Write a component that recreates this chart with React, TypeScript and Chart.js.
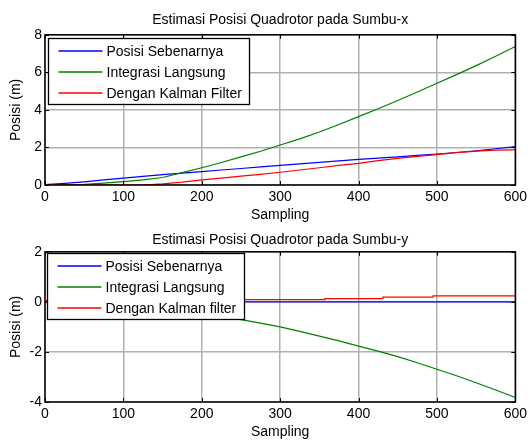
import React, { useEffect, useRef } from 'react';
import { Chart, registerables } from 'chart.js';
Chart.register(...registerables);

// ---- data ----
const samples = [0, 25, 50, 75, 100, 125, 150, 175, 200, 225, 250, 275, 300, 325, 350, 375, 400, 425, 450, 475, 500, 525, 550, 575, 600];

const xPosisiSebenarnya = [0.02, 0.09, 0.17, 0.27, 0.37, 0.46, 0.55, 0.63, 0.71, 0.8, 0.88, 0.97, 1.05, 1.12, 1.2, 1.28, 1.36, 1.43, 1.5, 1.58, 1.65, 1.73, 1.82, 1.93, 2.04];
const xIntegrasiLangsung = [0, 0.01, 0.03, 0.1, 0.18, 0.27, 0.4, 0.66, 0.92, 1.2, 1.5, 1.8, 2.13, 2.46, 2.82, 3.22, 3.64, 4.06, 4.5, 4.95, 5.42, 5.88, 6.36, 6.86, 7.38];
const xKalman = [0, 0, 0, 0, 0, 0, 0.06, 0.15, 0.27, 0.37, 0.47, 0.57, 0.68, 0.8, 0.92, 1.05, 1.15, 1.3, 1.42, 1.52, 1.62, 1.72, 1.8, 1.86, 1.87];

const yPosisiSebenarnya = [0, 0, 0, 0, 0, 0, 0, 0, 0, 0, 0, 0, 0, 0, 0, 0, 0, 0, 0, 0, 0, 0, 0, 0, 0];
const yIntegrasiLangsung = [0, -0.01, -0.03, -0.06, -0.12, -0.2, -0.29, -0.39, -0.48, -0.59, -0.71, -0.85, -1.0, -1.18, -1.37, -1.56, -1.77, -1.97, -2.19, -2.43, -2.69, -2.95, -3.23, -3.52, -3.82];
const yKalmanSamples = [0, 247, 357, 431, 495, 543, 600];
const yKalman = [0.03, 0.05, 0.09, 0.13, 0.19, 0.24, 0.24];

const xTicks = [0, 100, 200, 300, 400, 500, 600];
const yTicksTop = [0, 2, 4, 6, 8];
const yTicksBottom = [-4, -2, 0, 2];

const titleTop = 'Estimasi Posisi Quadrotor pada Sumbu-x';
const titleBottom = 'Estimasi Posisi Quadrotor pada Sumbu-y';
const labelsTop = ['Posisi Sebenarnya', 'Integrasi Langsung', 'Dengan Kalman Filter'];
const labelsBottom = ['Posisi Sebenarnya', 'Integrasi Langsung', 'Dengan Kalman filter'];

const FAMILY = '"Liberation Sans", Arial, Helvetica, sans-serif';
const BLUE = '#0000ff';
const GREEN = '#008000';
const RED = '#ff0000';
const GRID = '#b0b0b0';

const pts = (xs: number[], ys: number[]) => xs.map((x, i) => ({ x, y: ys[i] }));

const matlabFrame = {
  id: 'matlabFrame',
  afterDatasetsDraw(chart: any, _args: any, opts: any) {
    const { ctx, chartArea: a, scales } = chart;
    ctx.save();
    ctx.strokeStyle = '#000';
    ctx.lineWidth = 1;
    ctx.beginPath();
    for (const t of scales.x.ticks) {
      const px = Math.round(scales.x.getPixelForValue(t.value)) + 0.5;
      ctx.moveTo(px, a.bottom);
      ctx.lineTo(px, a.bottom - 4);
      ctx.moveTo(px, a.top);
      ctx.lineTo(px, a.top + 4);
    }
    for (const t of scales.y.ticks) {
      const py = Math.round(scales.y.getPixelForValue(t.value)) + 0.5;
      ctx.moveTo(a.left, py);
      ctx.lineTo(a.left + 4, py);
      ctx.moveTo(a.right, py);
      ctx.lineTo(a.right - 4, py);
    }
    ctx.stroke();
    ctx.lineWidth = 1.5;
    ctx.strokeRect(a.left, a.top, a.right - a.left, a.bottom - a.top);

    // legend
    const ds = chart.data.datasets;
    ctx.font = '14px ' + FAMILY;
    const boxL = Math.round(a.left + opts.dx) + 0.5;
    const boxT = Math.round(a.top + opts.dy) + 0.5;
    const maxW = Math.max(...ds.map((d: any) => ctx.measureText(d.label).width));
    const boxW = Math.round(58 + maxW + 8);
    const boxH = 66;
    ctx.fillStyle = '#fff';
    ctx.fillRect(boxL, boxT, boxW, boxH);
    ctx.lineWidth = 1.3;
    ctx.strokeStyle = '#000';
    ctx.strokeRect(boxL, boxT, boxW, boxH);
    ds.forEach((d: any, i: number) => {
      const y = Math.round(boxT + 12 + 21 * i);
      ctx.strokeStyle = d.borderColor;
      ctx.lineWidth = 1.6;
      ctx.beginPath();
      ctx.moveTo(boxL + 10, y);
      ctx.lineTo(boxL + 54, y);
      ctx.stroke();
      ctx.fillStyle = '#000';
      ctx.textBaseline = 'middle';
      ctx.textAlign = 'left';
      ctx.fillText(d.label, boxL + 58, y + 1);
    });
    ctx.restore();
  },
};

function makeConfig(opts: {
  title: string;
  labels: string[];
  blue: { x: number; y: number }[];
  green: { x: number; y: number }[];
  red: { x: number; y: number }[];
  redStepped: boolean;
  yMin: number;
  yMax: number;
  yTicks: number[];
  titlePad: { top: number; bottom: number };
  axisHeight: number;
  legend: { dx: number; dy: number };
}): any {
  const font = { family: FAMILY, size: 14, weight: 'normal' as const, lineHeight: 1.2 };
  const grid = { color: GRID, lineWidth: 1.5, drawTicks: false };
  return {
    type: 'line',
    data: {
      datasets: [
        { label: opts.labels[0], data: opts.blue, borderColor: BLUE, borderWidth: 1.2, pointRadius: 0, order: 2, tension: 0 },
        { label: opts.labels[1], data: opts.green, borderColor: GREEN, borderWidth: 1.2, pointRadius: 0, order: 1, tension: 0 },
        { label: opts.labels[2], data: opts.red, borderColor: RED, borderWidth: 1.2, pointRadius: 0, order: 0, tension: 0, stepped: opts.redStepped ? 'after' : false },
      ],
    },
    options: {
      animation: false,
      responsive: false,
      events: [],
      layout: { padding: { left: 0, right: 15, top: 0, bottom: 0 } },
      plugins: {
        legend: { display: false },
        tooltip: { enabled: false },
        title: { display: true, fullSize: false, text: opts.title, color: '#000', font, padding: opts.titlePad },
        matlabFrame: opts.legend,
      },
      scales: {
        x: {
          type: 'linear',
          min: 0,
          max: 600,
          afterBuildTicks: (s: any) => { s.ticks = xTicks.map((v) => ({ value: v })); },
          afterFit: (s: any) => { s.height = opts.axisHeight; },
          grid,
          border: { display: false },
          ticks: { color: '#000', font, padding: 4, maxRotation: 0, autoSkip: false },
          title: { display: true, text: 'Sampling', color: '#000', font, padding: { top: 0, bottom: 0 } },
        },
        y: {
          type: 'linear',
          min: opts.yMin,
          max: opts.yMax,
          afterBuildTicks: (s: any) => { s.ticks = opts.yTicks.map((v) => ({ value: v })); },
          afterFit: (s: any) => { s.width = 45; },
          grid,
          border: { display: false },
          ticks: { color: '#000', font, padding: 3, autoSkip: false },
          title: { display: true, text: 'Posisi (m)', color: '#000', font, padding: { top: 8, bottom: 0 } },
        },
      },
    },
    plugins: [matlabFrame],
  };
}

export default function App() {
  const topRef = useRef<HTMLCanvasElement>(null);
  const botRef = useRef<HTMLCanvasElement>(null);

  useEffect(() => {
    const c1 = new Chart(topRef.current!, makeConfig({
      title: titleTop,
      labels: labelsTop,
      blue: pts(samples, xPosisiSebenarnya),
      green: pts(samples, xIntegrasiLangsung),
      red: pts(samples, xKalman),
      redStepped: false,
      yMin: 0,
      yMax: 8,
      yTicks: yTicksTop,
      titlePad: { top: 12, bottom: 6 },
      axisHeight: 39,
      legend: { dx: 3, dy: 3 },
    }));
    const c2 = new Chart(botRef.current!, makeConfig({
      title: titleBottom,
      labels: labelsBottom,
      blue: pts(samples, yPosisiSebenarnya),
      green: pts(samples, yIntegrasiLangsung),
      red: pts(yKalmanSamples, yKalman),
      redStepped: true,
      yMin: -4,
      yMax: 2,
      yTicks: yTicksBottom,
      titlePad: { top: 8, bottom: 3 },
      axisHeight: 39,
      legend: { dx: 2, dy: 1 },
    }));
    return () => {
      c1.destroy();
      c2.destroy();
    };
  }, []);

  return (
    <div style={{ position: 'absolute', left: 0, top: 0, width: 531, height: 441, background: '#fff' }}>
      <canvas ref={topRef} width={531} height={224} style={{ position: 'absolute', left: 0, top: 0, width: 531, height: 224 }} />
      <canvas ref={botRef} width={531} height={217} style={{ position: 'absolute', left: 0, top: 224, width: 531, height: 217 }} />
    </div>
  );
}
